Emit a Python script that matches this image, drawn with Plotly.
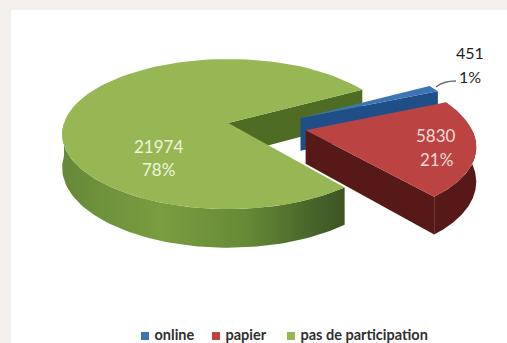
import numpy as np
import plotly.graph_objects as go

# Participation counts and their printed shares
categories = ["online", "papier", "pas de participation"]
values = [451, 5830, 21974]
share_labels = ["1%", "21%", "78%"]

top_colors = ["#3c75b5", "#bb4341", "#97b755"]
cut_colors = ["#1f4f86", "#571918", "#4f6c24"]

PAGE_W, PAGE_H = 507, 343

# Tilted-disc projection: unit circle on the table -> page pixels
CX, CY = 229.0, 123.0
SCALE_X = 164.2
PERSP = 0.1467
SLOPE_Y = -55.35
DEPTH = 33.0
START_DEG = 29.0   # where the first slice begins, going clockwise

# Slice displacement on the table plane (online, papier, remainder)
offsets = [(0.44, 0.069), (0.46, -0.098), (-0.005, 0.0)]


def project(px, py, drop=0.0):
    w = 1 + PERSP * py
    return CX + SCALE_X * px / w, (CY + SLOPE_Y * py) / w + drop * DEPTH / w


def arc(a0, a1, off, drop=0.0, n=90):
    t = np.radians(np.linspace(a0, a1, n))
    return project(np.cos(t) + off[0], np.sin(t) + off[1], drop)


def poly(xs, ys, color=None, gradient=None):
    style = dict(fillgradient=gradient) if gradient else dict(fillcolor=color)
    return go.Scatter(x=list(xs), y=list(ys), mode="lines", fill="toself",
                      line=dict(width=0), hoverinfo="skip", showlegend=False, **style)


def cut_face(angle, off, color):
    # Flat wall between the slice apex and one rim corner
    ax, ay = project(off[0], off[1])
    bx, by = project(off[0], off[1], 1.0)
    t = np.radians(angle)
    cx, cy = project(np.cos(t) + off[0], np.sin(t) + off[1])
    dx, dy = project(np.cos(t) + off[0], np.sin(t) + off[1], 1.0)
    return poly([ax, cx, dx, bx, ax], [ay, cy, dy, by, ay], color)


def rim(a0, a1, off, color=None, gradient=None):
    # Outer wall of a slice, following the rim between two angles
    tx, ty = arc(a0, a1, off)
    bx, by = arc(a1, a0, off, 1.0)
    return poly(np.r_[tx, bx, tx[0]], np.r_[ty, by, ty[0]], color, gradient)


def top_face(a0, a1, off, color):
    ax, ay = project(off[0], off[1])
    tx, ty = arc(a0, a1, off)
    return poly(np.r_[ax, tx, ax], np.r_[ay, ty, ay], color)


total = sum(values)
spans = [v / total * 360 for v in values]
a_online = (START_DEG, START_DEG - spans[0])
a_papier = (a_online[1], a_online[1] - spans[1])
a_rest = (a_papier[1], a_papier[1] - spans[2])

fig = go.Figure()

# Remainder slice
fig.add_trace(cut_face(a_rest[1], offsets[2], cut_colors[2]))
fig.add_trace(rim(a_rest[0], -180, offsets[2], gradient=dict(
    type="horizontal",
    colorscale=[[0, "#66893a"], [0.35, "#7a9d40"], [0.65, "#668a36"], [0.88, "#48652a"], [1, "#3c5522"]])))
fig.add_trace(top_face(a_rest[0], a_rest[1], offsets[2], top_colors[2]))

# Online slice
fig.add_trace(cut_face(a_online[1], offsets[0], cut_colors[0]))
fig.add_trace(top_face(a_online[0], a_online[1], offsets[0], top_colors[0]))

# Papier slice: one wide stroke-free wall, rim first so the corner seam stays hidden
fig.add_trace(rim(a_papier[1], 0, offsets[1], color=cut_colors[1]))
fig.add_trace(cut_face(a_papier[1], offsets[1], cut_colors[1]))
fig.add_trace(top_face(a_papier[0], a_papier[1], offsets[1], top_colors[1]))

FONT = "Lato"

# Slice labels
label_pos = [(470, 52, 76), (436, 135, 159), (158, 146, 169)]
label_ink = ["#222222", "#f6dcdb", "#eef4dc"]
label_size = [16, 17, 17]
for i, (lx, y1, y2) in enumerate(label_pos):
    for y, txt in ((y1, str(values[i])), (y2, share_labels[i])):
        fig.add_annotation(x=lx, y=y, text=txt, showarrow=False, xanchor="center", yanchor="middle",
                           font=dict(family=FONT, size=label_size[i], color=label_ink[i]))

# Key along the bottom edge
key_x = [145, 216, 291]
key_y = 336
for i, name in enumerate(categories):
    fig.add_trace(go.Scatter(
        x=[key_x[i]], y=[key_y], mode="markers+text", text=[" " + name], textposition="middle right",
        marker=dict(symbol="square", size=8, color=top_colors[i]),
        textfont=dict(family=FONT, size=14.5, color="#2f2f2f", weight="bold"),
        hoverinfo="skip", showlegend=False, cliponaxis=False))

fig.update_layout(
    width=PAGE_W, height=PAGE_H, autosize=False,
    margin=dict(l=0, r=0, t=0, b=0),
    paper_bgcolor="#f3efec", plot_bgcolor="#f3efec",
    showlegend=False,
    xaxis=dict(range=[0, PAGE_W], visible=False, fixedrange=True),
    yaxis=dict(range=[PAGE_H, 0], visible=False, fixedrange=True),
    shapes=[
        dict(type="rect", x0=11, y0=10, x1=PAGE_W, y1=PAGE_H, line=dict(width=0),
             fillcolor="#ffffff", layer="below"),
        dict(type="path", path="M 436 87 Q 443 81 456 81", line=dict(color="#6a6a6a", width=1.4), layer="above"),
    ],
)

fig.write_html("out.html", config=dict(displayModeBar=False))
